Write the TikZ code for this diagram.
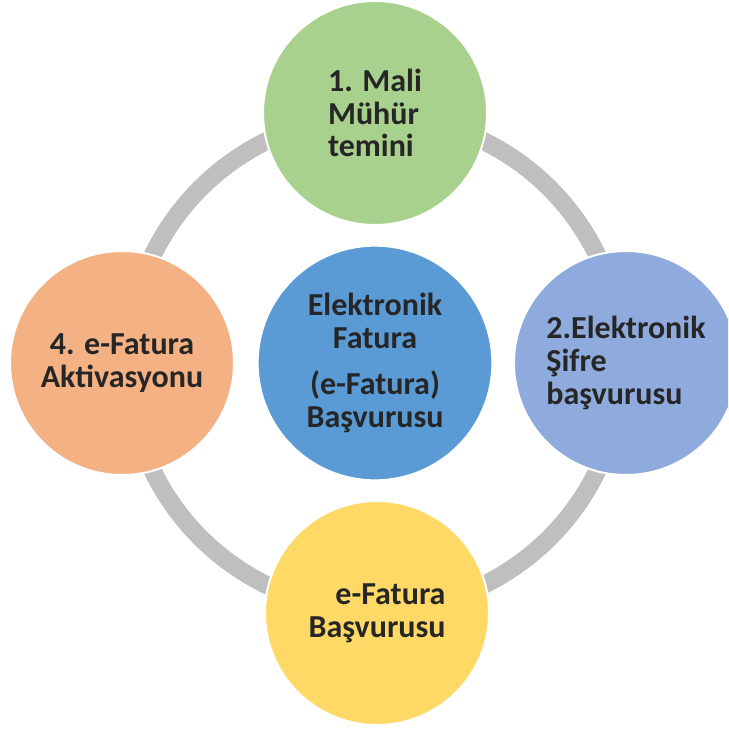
\documentclass[tikz,border=0pt]{standalone}
\usepackage{fontspec}
\setmainfont{Carlito}

\tikzset{every picture/.style={line width=0.75pt}}
\tikzset{
  bubble/.style={circle, draw={rgb, 255:red, 255; green, 255; blue, 255 }, line width=1.5pt, minimum size=168pt, inner sep=0pt,
    text={rgb, 255:red, 38; green, 38; blue, 38 }, font=\bfseries\fontsize{24}{24.5}\selectfont},
  ring/.style={draw={rgb, 255:red, 191; green, 191; blue, 191 }, line width=13.5pt},
}

\begin{document}
\begin{tikzpicture}[x=0.75pt,y=0.75pt,yscale=-1,xscale=1]
\useasboundingbox (0,0) rectangle (728,738);
\clip (0,0) rectangle (728,738);

%Shape: Ring
\coordinate (mid) at (375,363);
\draw [ring] (mid) circle (247);

%Shape: Circle (top)
\node [bubble, fill={rgb, 255:red, 169; green, 209; blue, 142 }, align=left] (muhur) at (375,113) {1. Mali\\Mühür\\temini};
%Shape: Circle (right)
\node [bubble, fill={rgb, 255:red, 143; green, 170; blue, 220 }, align=left] (sifre) at (626,363) {2.Elektronik\\Şifre\\başvurusu};
%Shape: Circle (bottom)
\node [bubble, fill={rgb, 255:red, 255; green, 217; blue, 102 }, align=right] (basvuru) at (377,613) {e-Fatura\\Başvurusu};
%Shape: Circle (left)
\node [bubble, fill={rgb, 255:red, 244; green, 177; blue, 131 }, align=center] (aktiv) at (122,363) {4. e-Fatura\\Aktivasyonu};
%Shape: Circle (centre)
\node [bubble, minimum size=176pt, fill={rgb, 255:red, 91; green, 155; blue, 213 }, align=center] (efatura) at (mid) {Elektronik\\Fatura\\[10pt](e-Fatura)\\Başvurusu};

\end{tikzpicture}
\end{document}
